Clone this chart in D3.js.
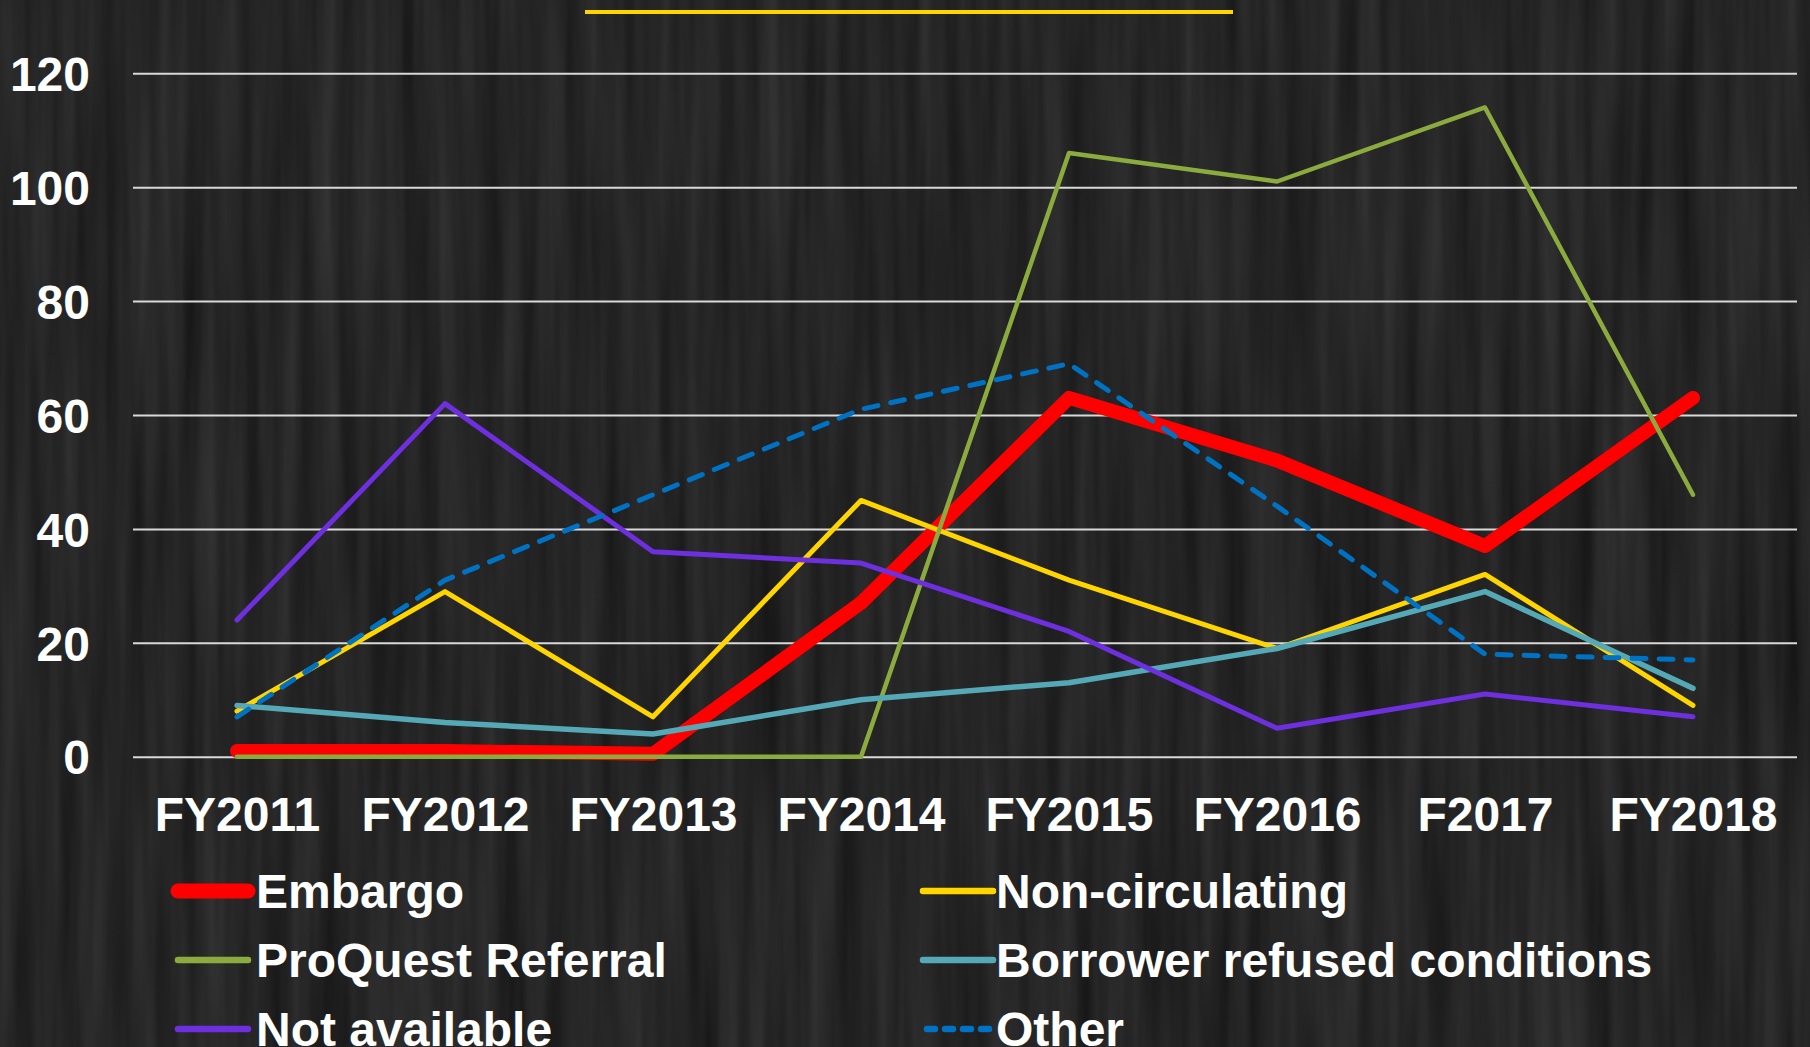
<!DOCTYPE html>
<html lang="en">
<head>
<meta charset="utf-8">
<title>Unfilled requests by reason</title>
<script src="https://cdnjs.cloudflare.com/ajax/libs/d3/7.8.5/d3.min.js"></script>
<style>
  html, body { margin: 0; padding: 0; background: #242424; }
  svg { display: block; }
  text { font-family: "Liberation Sans", Arial, sans-serif; font-weight: bold; fill: #ffffff; }
</style>
</head>
<body>
<script>
// data
const years = ["FY2011", "FY2012", "FY2013", "FY2014", "FY2015", "FY2016", "F2017", "FY2018"];
const embargo        = [1, 1, 0.5, 27, 63, 52, 37, 63];
const nonCirculating = [8, 29, 7, 45, 31, 19, 32, 9];
const proquest       = [0, 0, 0, 0, 106, 101, 114, 46];
const borrower       = [9, 6, 4, 10, 13, 19, 29, 12];
const notAvailable   = [24, 62, 36, 34, 22, 5, 11, 7];
const other          = [7, 31, 46, 61, 69, 44, 18, 17];
const yTicks = [0, 20, 40, 60, 80, 100, 120];

const seriesNames  = ["Embargo", "Non-circulating", "ProQuest Referral", "Borrower refused conditions", "Not available", "Other"];
const seriesValues = [embargo, nonCirculating, proquest, borrower, notAvailable, other];

// styles
const colors = ["#ff0000", "#ffd500", "#8cab3f", "#55a9b7", "#6e2fdf", "#0072c4"];
const widths = [14, 5, 4.5, 5.5, 5, 5];
const swatchWidths = [15, 6.5, 6.5, 6.5, 6.5, 6.5];

var w = 1810, h = 1047;
var plotLeft = 133, plotRight = 1797, plotTop = 73.3, plotBottom = 756.7;

var svg = d3.select("body").append("svg")
    .attr("width", w)
    .attr("height", h);

// dark wood-ish background
var defs = svg.append("defs");
var f = defs.append("filter").attr("id", "wood")
    .attr("x", 0).attr("y", 0).attr("width", "100%").attr("height", "100%")
    .attr("color-interpolation-filters", "sRGB");
f.append("feTurbulence").attr("type", "fractalNoise")
    .attr("baseFrequency", "0.05 0.0025").attr("numOctaves", 3).attr("seed", 7);
f.append("feColorMatrix").attr("type", "matrix")
    .attr("values", "0.14 0 0 0 0.075  0.14 0 0 0 0.075  0.14 0 0 0 0.075  0 0 0 0 1");
svg.append("rect").attr("width", w).attr("height", h).attr("fill", "#242424");
svg.append("rect").attr("width", w).attr("height", h).attr("filter", "url(#wood)");

// title underline
svg.append("line")
    .attr("x1", 585).attr("x2", 1233)
    .attr("y1", 12).attr("y2", 12)
    .attr("stroke", "#ffd500").attr("stroke-width", 4);

let xScale = d3.scalePoint().domain(years).range([plotLeft, plotRight]).padding(0.5);
let yScale = d3.scaleLinear().domain([0, 120]).range([plotBottom, plotTop]);

// y axis + gridlines
var yAxis = svg.append("g")
    .attr("transform", "translate(" + plotLeft + ",0)")
    .call(d3.axisLeft(yScale).tickValues(yTicks).tickSize(-(plotRight - plotLeft)).tickPadding(43));
yAxis.select(".domain").remove();
yAxis.selectAll("line").attr("stroke", "#d9d9d9").attr("stroke-width", 2);
yAxis.selectAll("text")
    .attr("font-size", 48)
    .attr("fill", "#fff")
    .attr("dy", "0.36em");
yAxis.attr("font-family", null).attr("font-size", null);

// x axis labels
var xAxis = svg.append("g")
    .attr("transform", "translate(0," + plotBottom + ")")
    .call(d3.axisBottom(xScale).tickSize(0));
xAxis.select(".domain").remove();
xAxis.attr("font-family", null).attr("font-size", null);
xAxis.selectAll("text")
    .attr("font-size", 48)
    .attr("fill", "#fff")
    .attr("y", 831 - plotBottom)
    .attr("dy", null);

// lines
var line = d3.line()
    .x(function(d, i) { return xScale(years[i]); })
    .y(function(d) { return yScale(d); });

seriesValues.forEach(function(vals, k) {
    var p = svg.append("path")
        .datum(vals)
        .attr("d", line)
        .attr("fill", "none")
        .attr("stroke", colors[k])
        .attr("stroke-width", widths[k])
        .attr("stroke-linejoin", "round")
        .attr("stroke-linecap", "round");
    if (seriesNames[k] == "Other") {
        p.attr("stroke-dasharray", "14,13");
    }
});

// legend, two columns
var legX = [178, 923];
var legTextX = [256, 996];
var legY = [891, 960, 1029];
seriesNames.forEach(function(name, k) {
    var cx = legX[k % 2], cy = legY[Math.floor(k / 2)];
    var g = svg.append("g");
    var sw = g.append("line")
        .attr("x1", cx).attr("x2", cx + 70)
        .attr("y1", cy).attr("y2", cy)
        .attr("stroke", colors[k])
        .attr("stroke-width", swatchWidths[k])
        .attr("stroke-linecap", "round");
    if (name == "Other") sw.attr("stroke-dasharray", "8,10").attr("x1", cx + 4);
    g.append("text")
        .attr("x", legTextX[k % 2])
        .attr("y", cy + 17)
        .attr("font-size", 48)
        .text(name);
});
</script>
</body>
</html>
